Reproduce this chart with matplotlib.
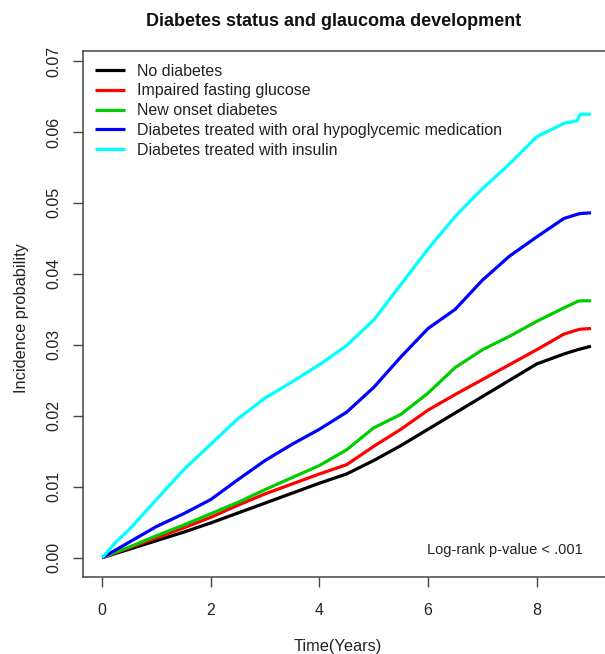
"""
Cumulative glaucoma incidence by diabetes status (Kaplan-Meier style curves).
"""

import matplotlib
matplotlib.use("Agg")
import matplotlib.pyplot as plt

plt.rcParams["font.family"] = ["Liberation Sans", "DejaVu Sans"]

# time points (years)
years = [0, 0.25, 0.5, 1, 1.5, 2, 2.5, 3, 3.5, 4, 4.5, 5, 5.5, 6, 6.5, 7, 7.5, 8, 8.5, 8.75, 8.8, 9]

no_diabetes = [0, 0.0006, 0.0012, 0.0024, 0.0036, 0.0049, 0.0063, 0.0077, 0.0091, 0.0105, 0.0118,
               0.0137, 0.0158, 0.0181, 0.0204, 0.0227, 0.0250, 0.0273, 0.0287, 0.0293, 0.0294, 0.0298]
impaired_glucose = [0, 0.0007, 0.0014, 0.0028, 0.0042, 0.0057, 0.0074, 0.0090, 0.0104, 0.0118, 0.0131,
                    0.0157, 0.0181, 0.0208, 0.0230, 0.0251, 0.0272, 0.0293, 0.0315, 0.0321, 0.0322, 0.0323]
new_onset = [0, 0.0008, 0.0015, 0.0031, 0.0046, 0.0062, 0.0078, 0.0096, 0.0113, 0.0130, 0.0152,
             0.0183, 0.0202, 0.0232, 0.0268, 0.0293, 0.0312, 0.0333, 0.0352, 0.0361, 0.0362, 0.0362]
oral_medication = [0, 0.0011, 0.0022, 0.0044, 0.0062, 0.0082, 0.0110, 0.0137, 0.0160, 0.0181, 0.0205,
                   0.0240, 0.0283, 0.0323, 0.0350, 0.0391, 0.0425, 0.0452, 0.0478, 0.0484, 0.0485, 0.0486]
insulin = [0, 0.0022, 0.0040, 0.0082, 0.0124, 0.0160, 0.0196, 0.0225, 0.0248, 0.0272, 0.0299,
           0.0335, 0.0385, 0.0435, 0.0481, 0.0520, 0.0555, 0.0593, 0.0612, 0.0616, 0.0625, 0.0625]

series_labels = [
    "No diabetes",
    "Impaired fasting glucose",
    "New onset diabetes",
    "Diabetes treated with oral hypoglycemic medication",
    "Diabetes treated with insulin",
]
series_values = [no_diabetes, impaired_glucose, new_onset, oral_medication, insulin]
series_colors = ["#000000", "#FF0000", "#00CD00", "#0000FF", "#00FFFF"]

x_ticks = [0, 2, 4, 6, 8]
y_ticks = [0.00, 0.01, 0.02, 0.03, 0.04, 0.05, 0.06, 0.07]

W, H = 605, 654
fig = plt.figure(figsize=(W / 100, H / 100), dpi=100)
# plot region; the right edge runs past the picture as in the original crop
left, right, top, bottom = 82.7, 610.5, 50.7, 576.7
ax = fig.add_axes([left / W, 1 - bottom / H, (right - left) / W, (bottom - top) / H])

for values, label, color in zip(series_values, series_labels, series_colors):
    ax.plot(years, values, color=color, linewidth=2.3, label=label, solid_capstyle="butt")

ax.set_xlim(-0.36, 9.36)
ax.set_ylim(-0.00268, 0.07145)
ax.set_xticks(x_ticks)
ax.set_xticklabels([str(t) for t in x_ticks])
ax.set_yticks(y_ticks)
ax.set_yticklabels([f"{v:.2f}" for v in y_ticks])

for side in ["top", "bottom", "left", "right"]:
    ax.spines[side].set_color("#444444")
    ax.spines[side].set_linewidth(1.1)

ax.tick_params(axis="both", length=7, width=1.0, color="#444444",
               labelsize=11.5, labelcolor="#222222")
ax.tick_params(axis="x", pad=12)
ax.tick_params(axis="y", pad=8)
for lbl in ax.get_yticklabels():
    lbl.set_rotation(90)
    lbl.set_va("center")

fs_px = 11.5 * 100 / 72
ax.legend(
    loc="upper left",
    bbox_to_anchor=((95 - left) / (right - left), 1 - 13 / (bottom - top)),
    frameon=False,
    fontsize=11.5,
    borderpad=0,
    borderaxespad=0,
    handlelength=30 / fs_px,
    handletextpad=12 / fs_px,
    labelspacing=0.3,
    labelcolor="#222222",
)

ax.text((583 - left) / (right - left), (bottom - 550) / (bottom - top),
        "Log-rank p-value < .001", transform=ax.transAxes,
        ha="right", va="center", fontsize=10.5, color="#222222")

fig.text(334 / W, 1 - 21 / H, "Diabetes status and glaucoma development",
         ha="center", va="center", fontsize=13, fontweight="bold", color="#111111")
fig.text(338 / W, 1 - 646 / H, "Time(Years)", ha="center", va="center",
         fontsize=11.8, color="#222222")
fig.text(22 / W, 1 - 318 / H, "Incidence probability", ha="center", va="center",
         rotation=90, fontsize=11.8, color="#222222")

fig.savefig("out.png", dpi=100)
